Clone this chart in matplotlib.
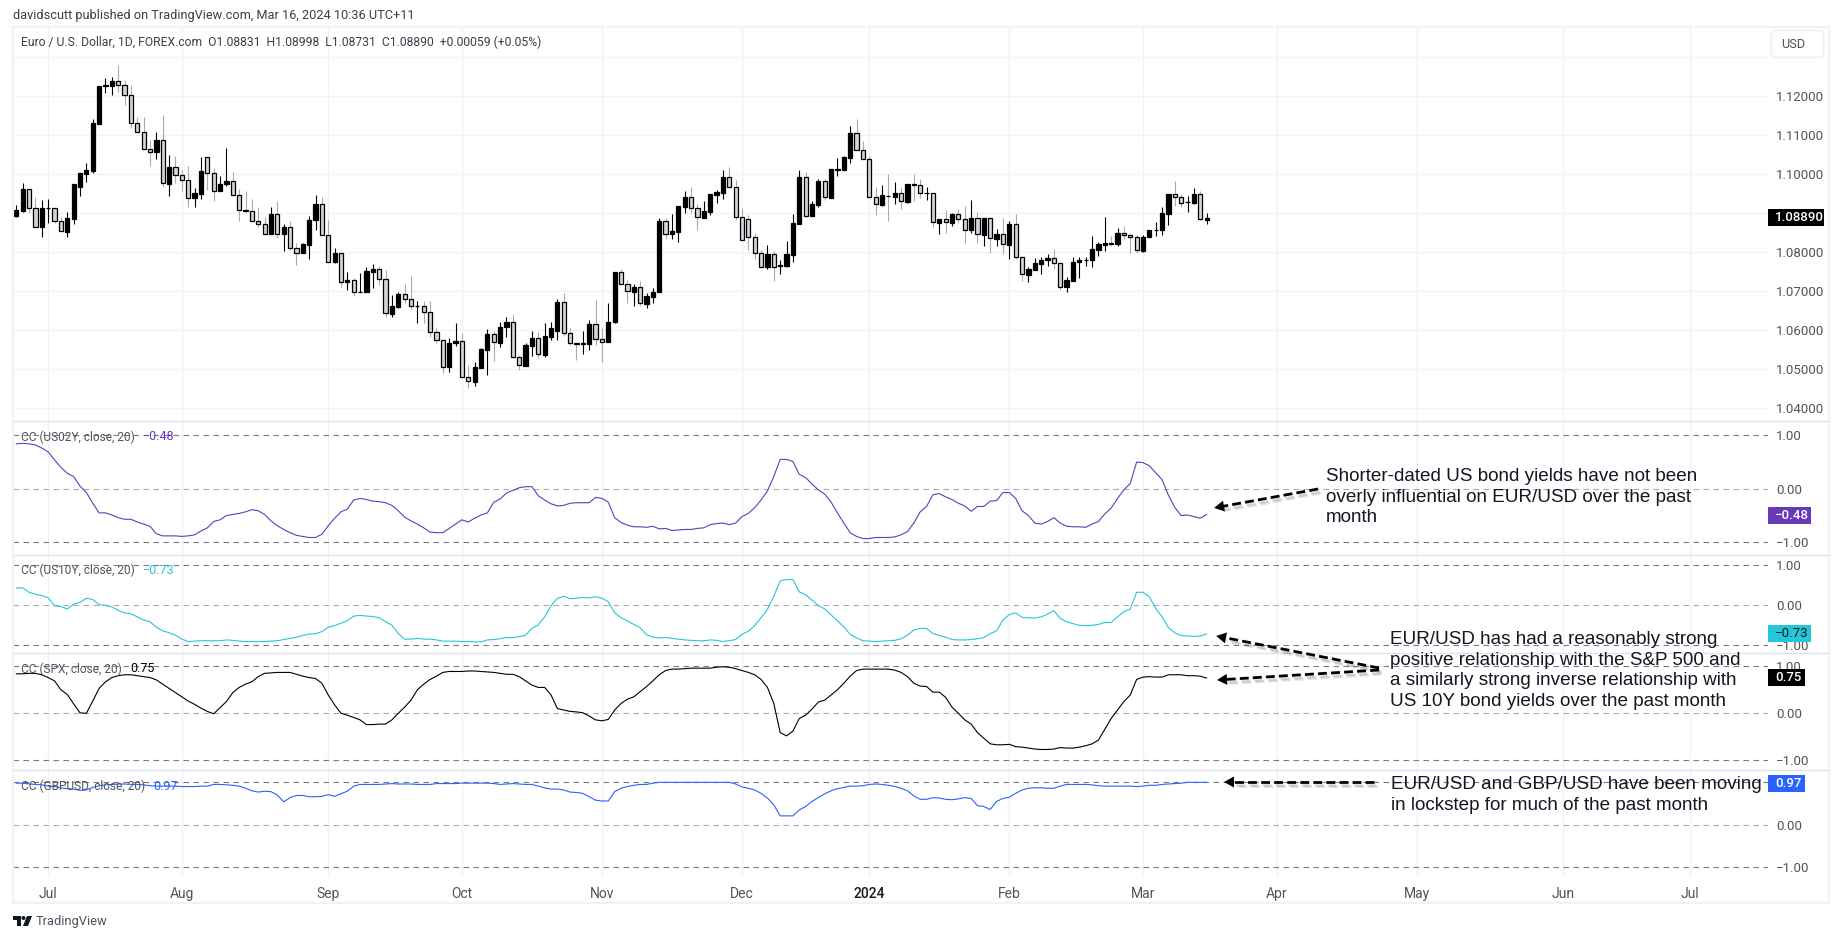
import numpy as np
import pandas as pd
import matplotlib
matplotlib.use("Agg")
import matplotlib.pyplot as plt
import matplotlib.patheffects as pe
from matplotlib.patches import FancyBboxPatch, Rectangle, Polygon, Circle

W, H = 1838, 939

# daily EUR/USD candles, first bar is 2023-06-26
opens = [
    1.0893, 1.0907, 1.0962, 1.0913, 1.0866, 1.0913, 1.0913, 1.0879, 1.0853, 1.0886,
    1.0968, 1.1002, 1.1009, 1.1130, 1.1227, 1.1227, 1.1238, 1.1228, 1.1203, 1.1131,
    1.1108, 1.1064, 1.1056, 1.1087, 1.0976, 1.1018, 1.0997, 1.0985, 1.0938, 1.0950,
    1.1044, 1.1003, 1.0956, 1.0974, 1.0982, 1.0948, 1.0908, 1.0906, 1.0879, 1.0872,
    1.0846, 1.0897, 1.0846, 1.0864, 1.0810, 1.0797, 1.0820, 1.0882, 1.0923, 1.0844,
    1.0776, 1.0797, 1.0723, 1.0728, 1.0698, 1.0699, 1.0750, 1.0756, 1.0731, 1.0642,
    1.0661, 1.0692, 1.0679, 1.0662, 1.0662, 1.0646, 1.0595, 1.0574, 1.0505, 1.0567,
    1.0572, 1.0479, 1.0468, 1.0504, 1.0550, 1.0590, 1.0568, 1.0608, 1.0621, 1.0531,
    1.0509, 1.0561, 1.0579, 1.0537, 1.0584, 1.0597, 1.0672, 1.0592, 1.0567, 1.0566,
    1.0566, 1.0615, 1.0577, 1.0571, 1.0622, 1.0749, 1.0718, 1.0699, 1.0710, 1.0668,
    1.0686, 1.0698, 1.0880, 1.0848, 1.0853, 1.0917, 1.0941, 1.0913, 1.0888, 1.0904,
    1.0948, 1.0953, 1.0992, 1.0968, 1.0890, 1.0885, 1.0838, 1.0797, 1.0763, 1.0795,
    1.0766, 1.0766, 1.0794, 1.0873, 1.0992, 1.0894, 1.0922, 1.0983, 1.0939, 1.1012,
    1.1012, 1.1043, 1.1105, 1.1062, 1.1038, 1.0943, 1.0922, 1.0945, 1.0943, 1.0951,
    1.0930, 1.0974, 1.0972, 1.0951, 1.0951, 1.0876, 1.0885, 1.0876, 1.0897, 1.0885,
    1.0856, 1.0887, 1.0844, 1.0887, 1.0835, 1.0846, 1.0819, 1.0872, 1.0789, 1.0743,
    1.0755, 1.0771, 1.0779, 1.0785, 1.0772, 1.0710, 1.0727, 1.0774, 1.0779, 1.0779,
    1.0807, 1.0820, 1.0823, 1.0822, 1.0850, 1.0845, 1.0838, 1.0804, 1.0838, 1.0856,
    1.0856, 1.0899, 1.0949, 1.0941, 1.0928, 1.0927, 1.0949, 1.08831,
]
closes = [
    1.0909, 1.0962, 1.0913, 1.0866, 1.0913, 1.0914, 1.0879, 1.0854, 1.0887, 1.0974,
    1.1003, 1.1010, 1.1131, 1.1226, 1.1228, 1.1238, 1.1228, 1.1203, 1.1131, 1.1108,
    1.1064, 1.1056, 1.1087, 1.0977, 1.1018, 1.0997, 1.0985, 1.0938, 1.0952, 1.1008,
    1.1003, 1.0956, 1.0974, 1.0982, 1.0948, 1.0908, 1.0907, 1.0879, 1.0872, 1.0846,
    1.0897, 1.0846, 1.0864, 1.0810, 1.0797, 1.0821, 1.0883, 1.0923, 1.0844, 1.0776,
    1.0797, 1.0723, 1.0728, 1.0697, 1.0699, 1.0751, 1.0756, 1.0731, 1.0644, 1.0662,
    1.0692, 1.0679, 1.0662, 1.0663, 1.0646, 1.0595, 1.0574, 1.0505, 1.0567, 1.0572,
    1.0479, 1.0469, 1.0505, 1.0551, 1.0590, 1.0569, 1.0608, 1.0621, 1.0531, 1.0510,
    1.0562, 1.0579, 1.0538, 1.0585, 1.0605, 1.0672, 1.0592, 1.0567, 1.0566, 1.0567,
    1.0615, 1.0577, 1.0571, 1.0622, 1.0749, 1.0718, 1.0700, 1.0710, 1.0669, 1.0688,
    1.0699, 1.0880, 1.0848, 1.0854, 1.0919, 1.0941, 1.0913, 1.0890, 1.0906, 1.0949,
    1.0955, 1.0992, 1.0968, 1.0890, 1.0831, 1.0838, 1.0797, 1.0763, 1.0795, 1.0763,
    1.0767, 1.0795, 1.0874, 1.0992, 1.0894, 1.0923, 1.0983, 1.0941, 1.1013, 1.1013,
    1.1044, 1.1106, 1.1062, 1.1038, 1.0943, 1.0923, 1.0946, 1.0944, 1.0951, 1.0931,
    1.0974, 1.0973, 1.0951, 1.0952, 1.0877, 1.0885, 1.0877, 1.0897, 1.0885, 1.0856,
    1.0887, 1.0846, 1.0887, 1.0836, 1.0846, 1.0821, 1.0872, 1.0789, 1.0744, 1.0756,
    1.0772, 1.0779, 1.0785, 1.0772, 1.0710, 1.0728, 1.0774, 1.0779, 1.0780, 1.0809,
    1.0821, 1.0823, 1.0822, 1.0850, 1.0845, 1.0838, 1.0805, 1.0838, 1.0857, 1.0857,
    1.0900, 1.0949, 1.0941, 1.0926, 1.0929, 1.0949, 1.0885, 1.08890,
]
highs = [
    1.0921, 1.0978, 1.0962, 1.0943, 1.0934, 1.0937, 1.0913, 1.0891, 1.0903, 1.0974,
    1.1003, 1.1028, 1.1141, 1.1227, 1.1246, 1.1249, 1.1279, 1.1242, 1.1229, 1.1148,
    1.1146, 1.1088, 1.1108, 1.1152, 1.1050, 1.1047, 1.1011, 1.1021, 1.0964, 1.1044,
    1.1044, 1.1015, 1.0996, 1.1068, 1.1006, 1.0962, 1.0956, 1.0937, 1.0917, 1.0891,
    1.0917, 1.0932, 1.0872, 1.0879, 1.0823, 1.0825, 1.0893, 1.0947, 1.0943, 1.0883,
    1.0811, 1.0797, 1.0750, 1.0733, 1.0748, 1.0763, 1.0770, 1.0766, 1.0755, 1.0691,
    1.0699, 1.0718, 1.0739, 1.0674, 1.0674, 1.0674, 1.0605, 1.0574, 1.0579, 1.0620,
    1.0592, 1.0511, 1.0520, 1.0554, 1.0603, 1.0597, 1.0622, 1.0635, 1.0642, 1.0537,
    1.0567, 1.0598, 1.0595, 1.0620, 1.0622, 1.0679, 1.0695, 1.0605, 1.0567, 1.0597,
    1.0626, 1.0678, 1.0605, 1.0671, 1.0749, 1.0756, 1.0729, 1.0719, 1.0727, 1.0695,
    1.0708, 1.0887, 1.0887, 1.0898, 1.0919, 1.0956, 1.0968, 1.0924, 1.0932, 1.0949,
    1.0960, 1.1011, 1.1018, 1.0985, 1.0913, 1.0896, 1.0849, 1.0806, 1.0819, 1.0804,
    1.0780, 1.0829, 1.0898, 1.1011, 1.1006, 1.0932, 1.0988, 1.0988, 1.1013, 1.1041,
    1.1047, 1.1124, 1.1142, 1.1085, 1.1047, 1.0967, 1.0973, 1.1001, 1.0979, 1.0968,
    1.0974, 1.1001, 1.0988, 1.0968, 1.0951, 1.0885, 1.0909, 1.0900, 1.0910, 1.0919,
    1.0934, 1.0904, 1.0887, 1.0887, 1.0860, 1.0887, 1.0879, 1.0898, 1.0789, 1.0763,
    1.0785, 1.0787, 1.0796, 1.0809, 1.0772, 1.0736, 1.0787, 1.0789, 1.0789, 1.0842,
    1.0826, 1.0891, 1.0842, 1.0862, 1.0868, 1.0849, 1.0844, 1.0844, 1.0857, 1.0877,
    1.0916, 1.0949, 1.0983, 1.0950, 1.0944, 1.0965, 1.0957, 1.08998,
]
lows = [
    1.0891, 1.0904, 1.0900, 1.0866, 1.0838, 1.0874, 1.0874, 1.0854, 1.0838, 1.0872,
    1.0945, 1.0979, 1.1004, 1.1130, 1.1208, 1.1203, 1.1212, 1.1177, 1.1118, 1.1108,
    1.1064, 1.1022, 1.1040, 1.0968, 1.0945, 1.0977, 1.0956, 1.0917, 1.0915, 1.0937,
    1.0960, 1.0932, 1.0956, 1.0971, 1.0948, 1.0879, 1.0904, 1.0879, 1.0866, 1.0846,
    1.0846, 1.0836, 1.0804, 1.0806, 1.0768, 1.0797, 1.0783, 1.0857, 1.0844, 1.0776,
    1.0772, 1.0710, 1.0703, 1.0688, 1.0697, 1.0699, 1.0709, 1.0716, 1.0635, 1.0635,
    1.0656, 1.0669, 1.0652, 1.0620, 1.0618, 1.0584, 1.0567, 1.0491, 1.0494, 1.0561,
    1.0479, 1.0453, 1.0456, 1.0504, 1.0485, 1.0521, 1.0558, 1.0584, 1.0528, 1.0498,
    1.0509, 1.0534, 1.0528, 1.0532, 1.0574, 1.0574, 1.0585, 1.0562, 1.0524, 1.0538,
    1.0550, 1.0562, 1.0520, 1.0571, 1.0618, 1.0718, 1.0669, 1.0663, 1.0663, 1.0658,
    1.0669, 1.0697, 1.0835, 1.0833, 1.0827, 1.0900, 1.0902, 1.0856, 1.0887, 1.0896,
    1.0927, 1.0937, 1.0968, 1.0883, 1.0831, 1.0806, 1.0782, 1.0759, 1.0758, 1.0727,
    1.0744, 1.0763, 1.0776, 1.0873, 1.0891, 1.0894, 1.0917, 1.0934, 1.0938, 1.0996,
    1.1012, 1.1030, 1.1062, 1.1038, 1.0943, 1.0896, 1.0920, 1.0879, 1.0924, 1.0911,
    1.0927, 1.0932, 1.0938, 1.0934, 1.0866, 1.0847, 1.0850, 1.0868, 1.0876, 1.0825,
    1.0850, 1.0825, 1.0815, 1.0799, 1.0815, 1.0796, 1.0784, 1.0784, 1.0726, 1.0725,
    1.0755, 1.0744, 1.0766, 1.0758, 1.0703, 1.0699, 1.0727, 1.0735, 1.0766, 1.0763,
    1.0791, 1.0804, 1.0815, 1.0815, 1.0834, 1.0799, 1.0797, 1.0802, 1.0838, 1.0842,
    1.0844, 1.0870, 1.0919, 1.0917, 1.0904, 1.0923, 1.0883, 1.08731,
]

# 20 day correlation panes, one value per bar
cc_us02y = [
    .84, .85, .84, .82, .76, .69, .54, .40, .29, .23,
    .05, -.07, -.27, -.45, -.45, -.49, -.54, -.57, -.57, -.62,
    -.66, -.70, -.84, -.88, -.88, -.88, -.89, -.88, -.86, -.79,
    -.73, -.61, -.58, -.50, -.48, -.46, -.43, -.39, -.41, -.48,
    -.60, -.69, -.76, -.82, -.87, -.89, -.91, -.91, -.85, -.69,
    -.55, -.43, -.38, -.21, -.18, -.20, -.23, -.24, -.26, -.31,
    -.41, -.53, -.60, -.66, -.73, -.81, -.82, -.82, -.74, -.66,
    -.58, -.62, -.55, -.49, -.45, -.25, -.19, -.08, -.03, .02,
    .04, .04, -.13, -.21, -.28, -.32, -.31, -.27, -.26, -.26,
    -.26, -.16, -.18, -.25, -.54, -.63, -.68, -.71, -.71, -.72,
    -.70, -.75, -.74, -.78, -.77, -.76, -.76, -.74, -.73, -.67,
    -.65, -.64, -.67, -.64, -.52, -.46, -.35, -.21, -.04, .23,
    .55, .55, .51, .27, .21, .09, -.02, -.10, -.25, -.45,
    -.64, -.82, -.89, -.93, -.93, -.91, -.91, -.91, -.90, -.86,
    -.80, -.64, -.43, -.33, -.11, -.09, -.15, -.20, -.27, -.32,
    -.42, -.33, -.33, -.23, -.22, -.07, -.07, -.18, -.41, -.50,
    -.64, -.66, -.61, -.54, -.64, -.70, -.71, -.71, -.72, -.66,
    -.61, -.47, -.36, -.18, -.02, .10, .50, .49, .43, .30,
    .17, -.12, -.35, -.50, -.49, -.52, -.55, -.48,
]
cc_us10y = [
    .43, .43, .32, .27, .24, .18, -.02, -.04, -.10, .02,
    .07, .17, .14, .01, -.01, -.05, -.13, -.20, -.22, -.30,
    -.38, -.42, -.56, -.65, -.70, -.76, -.86, -.92, -.91, -.90,
    -.90, -.90, -.90, -.88, -.89, -.91, -.92, -.92, -.92, -.92,
    -.91, -.90, -.87, -.84, -.81, -.77, -.73, -.72, -.67, -.56,
    -.52, -.46, -.39, -.28, -.26, -.28, -.29, -.32, -.42, -.51,
    -.72, -.86, -.86, -.84, -.86, -.86, -.88, -.91, -.91, -.91,
    -.92, -.92, -.93, -.93, -.88, -.87, -.85, -.82, -.82, -.80,
    -.76, -.59, -.50, -.30, -.02, .17, .22, .16, .17, .19,
    .18, .21, .17, .08, -.20, -.32, -.40, -.49, -.57, -.75,
    -.81, -.83, -.82, -.84, -.86, -.88, -.89, -.90, -.90, -.88,
    -.89, -.92, -.90, -.87, -.74, -.66, -.52, -.32, -.11, .22,
    .61, .64, .64, .33, .26, .12, -.01, -.10, -.25, -.40,
    -.55, -.74, -.83, -.90, -.91, -.92, -.91, -.90, -.89, -.85,
    -.76, -.63, -.59, -.59, -.72, -.77, -.81, -.87, -.88, -.88,
    -.87, -.85, -.82, -.72, -.65, -.38, -.24, -.20, -.31, -.32,
    -.33, -.30, -.23, -.14, -.34, -.42, -.47, -.51, -.52, -.51,
    -.49, -.44, -.44, -.30, -.17, -.10, .32, .32, .21, -.09,
    -.30, -.57, -.70, -.77, -.78, -.79, -.78, -.73,
]
cc_spx = [
    .84, .84, .85, .85, .82, .76, .69, .50, .40, .20,
    .01, .00, .26, .53, .67, .76, .80, .82, .82, .80,
    .78, .76, .71, .62, .53, .44, .35, .26, .19, .11,
    .04, -.01, .12, .25, .44, .55, .62, .67, .78, .85,
    .86, .87, .87, .87, .83, .79, .76, .74, .64, .39,
    .18, .00, -.04, -.09, -.14, -.24, -.24, -.23, -.23, -.14,
    .00, .13, .28, .50, .62, .72, .79, .87, .89, .89,
    .89, .90, .90, .89, .88, .87, .85, .83, .83, .78,
    .69, .60, .55, .55, .39, .10, .07, .04, .03, .01,
    -.06, -.14, -.16, -.13, .07, .21, .30, .35, .46, .57,
    .69, .82, .91, .94, .94, .95, .96, .96, .96, .96,
    .98, .99, .98, .95, .91, .87, .82, .72, .55, .21,
    -.41, -.48, -.38, -.11, -.04, .09, .24, .28, .39, .50,
    .64, .79, .91, .94, .94, .94, .94, .94, .92, .87,
    .78, .64, .58, .57, .45, .45, .34, .13, .00, -.14,
    -.23, -.41, -.53, -.65, -.67, -.67, -.66, -.71, -.72, -.74,
    -.76, -.77, -.77, -.76, -.73, -.74, -.74, -.72, -.69, -.65,
    -.57, -.34, -.11, .07, .25, .39, .72, .77, .78, .77,
    .77, .82, .82, .82, .80, .80, .79, .75,
]
cc_gbpusd = [
    .98, .98, .96, .95, .94, .91, .90, .87, .85, .84,
    .81, .82, .88, .92, .94, .95, .96, .96, .95, .95,
    .94, .92, .91, .91, .91, .91, .90, .90, .90, .91,
    .91, .95, .95, .94, .93, .91, .86, .80, .77, .79,
    .78, .70, .54, .64, .69, .69, .66, .66, .67, .71,
    .67, .73, .79, .91, .95, .95, .95, .95, .96, .97,
    .96, .96, .96, .95, .95, .95, .97, .97, .97, .97,
    .98, .98, .98, .98, .98, .97, .95, .96, .97, .96,
    .95, .95, .91, .87, .84, .84, .82, .77, .76, .74,
    .66, .58, .56, .56, .78, .86, .90, .93, .95, .95,
    .98, 1.0, 1.0, 1.0, 1.0, 1.0, 1.0, 1.0, 1.0, 1.0,
    1.0, 1.0, 1.0, .96, .89, .86, .82, .74, .63, .47,
    .21, .21, .21, .35, .43, .55, .64, .73, .80, .85,
    .88, .91, .91, .92, .95, .96, .95, .93, .90, .86,
    .80, .68, .60, .60, .64, .63, .60, .59, .61, .64,
    .62, .45, .43, .36, .55, .62, .65, .74, .82, .86,
    .87, .87, .86, .86, .91, .95, .95, .95, .95, .94,
    .92, .91, .91, .91, .91, .91, .90, .91, .93, .93,
    .95, .96, .97, .98, 1.0, 1.0, 1.0, 1.0,
]

price_ticks = [1.04, 1.05, 1.06, 1.07, 1.08, 1.09, 1.10, 1.11, 1.12]
cc_ticks = [-1.0, 0.0, 1.0]
annotations = [
    ("Shorter-dated US bond yields have not been\noverly influential on EUR/USD over the past\nmonth", 1326, 468),
    ("EUR/USD has had a reasonably strong\npositive relationship with the S&P 500 and\na similarly strong inverse relationship with\nUS 10Y bond yields over the past month", 1390, 631),
    ("EUR/USD and GBP/USD have been moving\nin lockstep for much of the past month", 1391, 776),
]

UI_FONT = "Roboto"
TEXT_COL = "#50535e"
GRID_COL = "#f0f2f6"
BORDER_COL = "#e0e3eb"

# bars are evenly spaced, weekends and the two closed holidays are dropped
dates = pd.bdate_range("2023-06-26", "2024-07-31")
dates = dates[~dates.isin(pd.to_datetime(["2023-12-25", "2024-01-01"]))]
month_pos, month_lab = [], []
for i in range(1, len(dates)):
    if dates[i].month != dates[i - 1].month:
        month_pos.append(i)
        month_lab.append("2024" if dates[i].month == 1 else dates[i].strftime("%b"))

bars = np.arange(len(closes))
X0, X1 = 13, 1768
SPACING = 6.365
xlim = ((X0 - 16.37) / SPACING, (X1 - 16.37) / SPACING)

fig = plt.figure(figsize=(W / 100, H / 100), dpi=100, facecolor="white")


def pane(y0, y1, ylim):
    ax = fig.add_axes([X0 / W, 1 - y1 / H, (X1 - X0) / W, (y1 - y0) / H])
    ax.set_xlim(xlim)
    ax.set_ylim(ylim)
    for s in ax.spines.values():
        s.set_visible(False)
    ax.set_xticks(month_pos)
    ax.tick_params(axis="x", length=0, labelbottom=False)
    ax.grid(axis="x", color=GRID_COL, lw=1)
    ax.yaxis.tick_right()
    ax.tick_params(axis="y", length=0, pad=6, labelsize=9.5, labelcolor=TEXT_COL)
    ax.set_axisbelow(True)
    return ax


# price pane
ax_p = pane(27, 421, (1.12 - (421 - 96.3) / 3900, 1.12 + (96.3 - 27) / 3900))
ax_p.set_yticks(price_ticks + [1.13])
ax_p.set_yticklabels([f"{t:.5f}" for t in price_ticks] + [""], family=UI_FONT)
ax_p.grid(axis="y", color=GRID_COL, lw=1)

o, c, hi, lo = map(np.array, (opens, closes, highs, lows))
up = c >= o
ax_p.vlines(bars[up], lo[up], hi[up], color="#000000", lw=0.8, zorder=2)
ax_p.vlines(bars[~up], lo[~up], hi[~up], color="#a8abb4", lw=0.8, zorder=2)
bottom = np.minimum(o, c)
height = np.abs(c - o)
ax_p.bar(bars[up], height[up], bottom=bottom[up], width=0.66, color="#000000",
         edgecolor="#000000", lw=0.9, zorder=3)
ax_p.bar(bars[~up], height[~up], bottom=bottom[~up], width=0.66, color="#d1d4dc",
         edgecolor="#000000", lw=0.9, zorder=3)

# correlation panes
panes = [
    ("CC (US02Y, close, 20)", cc_us02y, "#673ab7", (421, 554.7), (435.3, 542.3), "\u22120.48", 142.7),
    ("CC (US10Y, close, 20)", cc_us10y, "#26c6da", (554.7, 653.3), (565.3, 644.7), "\u22120.73", 142.7),
    ("CC (SPX, close, 20)", cc_spx, "#000000", (653.3, 770.3), (666.3, 760.3), "0.75", 130.5),
    ("CC (GBPUSD, close, 20)", cc_gbpusd, "#2962ff", (770.3, 875.7), (782.3, 867.3), "0.97", 153.4),
]
axes_cc = []
for name, vals, col, (top, bot), (y_p1, y_m1), last, val_x in panes:
    half = (y_m1 - y_p1) / 2
    mid = (y_m1 + y_p1) / 2
    ax = pane(top, bot, ((mid - bot) / half, (mid - top) / half))
    ticks = cc_ticks if name != "CC (GBPUSD, close, 20)" else cc_ticks[:2]
    ax.set_yticks(ticks)
    ax.set_yticklabels([f"{t:.2f}".replace("-", "\u2212") for t in ticks], family=UI_FONT)
    ax.axhline(1, color="#787b86", lw=0.8, dashes=(5, 4), zorder=1)
    ax.axhline(0, color="#a8abb4", lw=0.8, dashes=(5, 4), zorder=1)
    ax.axhline(-1, color="#787b86", lw=0.8, dashes=(5, 4), zorder=1)
    ax.plot(bars, vals, color=col, lw=0.8, zorder=3)
    axes_cc.append(ax)

ax_b = axes_cc[-1]
ax_b.tick_params(axis="x", labelbottom=True, pad=8, labelsize=10, labelcolor=TEXT_COL)
ax_b.set_xticklabels(month_lab, family=UI_FONT)
for t in ax_b.get_xticklabels():
    if t.get_text() == "2024":
        t.set_color("#131722")
        t.set_fontweight("medium")

# overlay in pixel coordinates for frame, legends, labels and drawn arrows
ov = fig.add_axes([0, 0, 1, 1], facecolor="none")
ov.set_xlim(0, W)
ov.set_ylim(H, 0)
ov.axis("off")

ov.add_patch(Rectangle((13, 27), 1816, 876, fill=False, ec=GRID_COL, lw=1.6))
for y in (421, 554.7, 653.3, 770.3):
    ov.plot([13, 1829], [y, y], color=BORDER_COL, lw=1)

ov.text(13, 15, "davidscutt published on TradingView.com, Mar 16, 2024 10:36 UTC+11",
        family=UI_FONT, fontsize=9.2, color="#3c3f4a", va="center")
ov.text(21, 42, "Euro / U.S. Dollar, 1D, FOREX.com  O1.08831  H1.08998  L1.08731  C1.08890  +0.00059 (+0.05%)",
        family=UI_FONT, fontsize=8.7, color="#3c3f4a", va="center")

ov.add_patch(FancyBboxPatch((1773, 32), 49, 24, boxstyle="round,pad=1.5,rounding_size=4",
                            fc="white", ec=GRID_COL, lw=1.4))
ov.text(1781, 44, "USD", family=UI_FONT, fontsize=9.2, color=TEXT_COL, va="center")

legend_y = [437, 570, 669, 786]
for (name, vals, col, _, _, last, val_x), y in zip(panes, legend_y):
    ov.text(21, y, name, family=UI_FONT, fontsize=8.6, color=TEXT_COL, va="center")
    ov.text(val_x, y, last, family=UI_FONT, fontsize=9, color=col, va="center")

# last value tags on the scales
tags = [
    ("1.08890", 209, 226, 1824, "#000000", "white"),
    ("\u22120.48", 507, 524, 1811, "#673ab7", "white"),
    ("\u22120.73", 625, 642, 1811, "#26c6da", "#131722"),
    ("0.75", 669, 686, 1805, "#000000", "white"),
    ("0.97", 775, 792, 1805, "#2962ff", "white"),
]
for txt, y0, y1, x1, bg, fg in tags:
    ov.add_patch(Rectangle((1768, y0), x1 - 1768, y1 - y0, fc=bg, ec="none", zorder=5))
    ov.text(1775, (y0 + y1) / 2, txt, family=UI_FONT, fontsize=9.5, color=fg,
            va="center", fontweight="medium" if fg == "white" else "normal", zorder=6)

# hand drawn dashed arrows from the notes, soft shadow built from two faint offsets
shadow = [pe.SimpleLineShadow(offset=off, shadow_color="#000000", alpha=0.12)
          for off in ((1, -2), (2, -3))] + [pe.Normal()]
arrows = [
    ((1318, 489), (1222, 506.5)),
    ((1379, 668), (1224, 637.5)),
    ((1379, 670), (1225, 679.5)),
    ((1374, 782), (1232, 782)),
]
for start, end in arrows:
    ov.plot([start[0], end[0]], [start[1], end[1]], color="black", lw=2.0,
            dashes=(3.2, 1.5), path_effects=shadow, zorder=7, solid_capstyle="butt")
    d = np.subtract(end, start) / np.hypot(*np.subtract(end, start))
    n = np.array([-d[1], d[0]])
    tip = np.array(end) + d * 8
    base = np.array(end) - d * 2
    ov.add_patch(Polygon([tip, base + n * 5.5, base - n * 5.5], fc="black", ec="none", zorder=7))

for txt, x, y in annotations:
    ov.text(x, y, txt, family="Liberation Sans", fontsize=13.6, color="#131722",
            va="top", ha="left", linespacing=1.28, zorder=8)

# TradingView mark and wordmark
ov.add_patch(Polygon([(13, 916), (21, 916), (21, 926), (17, 926), (17, 920), (13, 920)], fc="#131722", ec="none"))
ov.add_patch(Circle((23.5, 918), 2, fc="#131722", ec="none"))
ov.add_patch(Polygon([(27, 916), (32, 916), (28, 926), (23, 926)], fc="#131722", ec="none"))
ov.text(36, 921, "TradingView", family=UI_FONT, fontsize=9.3, color="#50535e", va="center")

fig.savefig("out.png", dpi=100)
